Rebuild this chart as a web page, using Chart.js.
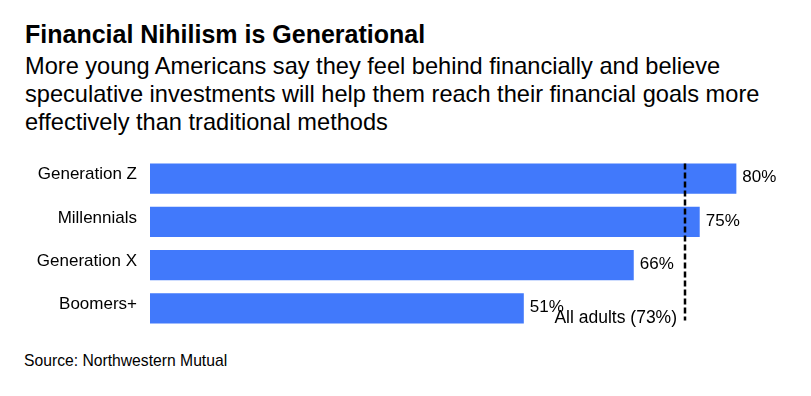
<!DOCTYPE html>
<html>
<head>
<meta charset="utf-8">
<script src="https://cdn.jsdelivr.net/npm/chart.js@4.4.1/dist/chart.umd.min.js"></script>
<style>
  html, body { margin:0; padding:0; background:#fff; }
  body { width:811px; height:396px; position:relative; overflow:hidden;
         font-family:"Liberation Sans", Arial, sans-serif; color:#000; }
  #title { position:absolute; left:25px; top:18.6px; font-size:25px; line-height:30px; font-weight:bold; white-space:nowrap; }
  #sub { position:absolute; left:25px; top:52px; font-size:23.6px; line-height:28.2px; width:790px; white-space:nowrap; }
  #src { position:absolute; left:24px; top:352.3px; font-size:15.7px; line-height:18px; white-space:nowrap; }
  #wrap { position:absolute; left:0; top:150px; width:811px; height:180px; }
</style>
</head>
<body>
<div id="title">Financial Nihilism is Generational</div>
<div id="sub">More young Americans say they feel behind financially and believe<br>speculative investments will help them reach their financial goals more<br>effectively than traditional methods</div>
<div id="wrap"><canvas id="chart"></canvas></div>
<div id="src">Source: Northwestern Mutual</div>

<script>
// ── data ──
const generations = ['Generation Z','Millennials','Generation X','Boomers+'];
const shares = [80, 75, 66, 51];
const allAdults = 73;
const allAdultsLabel = 'All adults (73%)';

const BLUE = '#4179fb';
const FONT = '"Liberation Sans", Arial, sans-serif';

// ── value labels + reference line ──
const overlay = {
  id:'overlay',
  afterDatasetsDraw(chart){
    const ctx = chart.ctx;
    const meta = chart.getDatasetMeta(0);
    const xs = chart.scales.x;

    ctx.save();
    ctx.font = '17px ' + FONT;
    ctx.fillStyle = '#000';
    ctx.textAlign = 'left';
    ctx.textBaseline = 'middle';
    meta.data.forEach((bar,i)=>{
      ctx.fillText(shares[i] + '%', bar.x + 6, bar.y - 1);
    });

    const first = meta.data[0];
    const last = meta.data[meta.data.length-1];
    const lx = Math.round(xs.getPixelForValue(allAdults));
    const top = first.y - first.height/2;
    const bottom = last.y + last.height/2;

    ctx.strokeStyle = '#000';
    ctx.lineWidth = 2.5;
    ctx.setLineDash([6,3]);
    ctx.beginPath();
    ctx.moveTo(lx, top);
    ctx.lineTo(lx, bottom - 3);
    ctx.stroke();
    ctx.setLineDash([]);

    ctx.font = '17.5px ' + FONT;
    ctx.textAlign = 'right';
    ctx.textBaseline = 'alphabetic';
    ctx.fillText(allAdultsLabel, lx - 8, bottom);
    ctx.restore();
  }
};

new Chart(document.getElementById('chart').getContext('2d'),{
  type:'bar',
  data:{
    labels:generations,
    datasets:[{
      data:shares,
      backgroundColor:BLUE,
      borderWidth:0,
      categoryPercentage:1,
      barPercentage:0.694
    }]
  },
  options:{
    indexAxis:'y',
    responsive:true,
    maintainAspectRatio:false,
    animation:false,
    layout:{ padding:{ top:7, right:16, bottom:0, left:0 } },
    plugins:{ legend:{display:false}, tooltip:{enabled:false} },
    scales:{
      x:{ type:'linear', min:0, max:88, display:false },
      y:{
        grid:{ display:false, drawTicks:false },
        border:{ display:false },
        afterFit(scale){
          scale.width = 150;
          scale.paddingTop = 0;
          scale.paddingBottom = 0;
        },
        ticks:{
          padding:13,
          labelOffset:-4,
          color:'#000',
          font:{ family:FONT, size:17 }
        }
      }
    }
  },
  plugins:[overlay]
});
</script>
</body>
</html>
